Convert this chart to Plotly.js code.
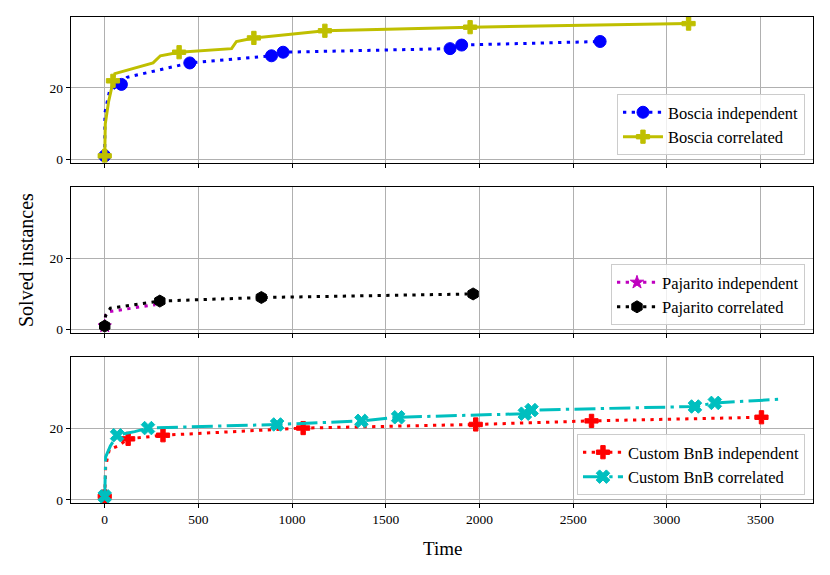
<!DOCTYPE html>
<html><head><meta charset="utf-8">
<script src="https://cdn.plot.ly/plotly-3.0.1.min.js"></script>
<style>html,body{margin:0;padding:0;background:#fff}</style>
</head><body><div id="chart" style="width:830px;height:575px"></div>
<script>
// ---- data (time in s, number of solved instances) ----
const boscia_ind_t = [0, 1, 25, 50, 89, 120, 454, 890, 952, 1843, 1905, 2644];
const boscia_ind_n = [1, 13, 19, 20, 21, 23, 27, 29, 30, 31, 32, 33];
const boscia_ind_marks = [0, 4, 6, 7, 8, 9, 10, 11];

const boscia_cor_t = [0, 3, 20, 44, 54, 258, 297, 397, 677, 703, 796, 1175, 1950, 3116];
const boscia_cor_n = [1, 10, 16, 22, 24, 27, 29, 30, 31, 33, 34, 36, 37, 38];
const boscia_cor_marks = [0, 3, 7, 10, 11, 12, 13];

const pajarito_ind_t = [0, 4, 15, 270];
const pajarito_ind_n = [1, 4, 5, 7];
const pajarito_ind_marks = [0];

const pajarito_cor_t = [0, 5, 30, 294, 836, 1966];
const pajarito_cor_n = [1, 4, 6, 8, 9, 10];
const pajarito_cor_marks = [0, 3, 4, 5];

const bnb_ind_t = [0, 5, 15, 25, 70, 125, 311, 1059, 1980, 2598, 3505];
const bnb_ind_n = [1, 9, 12, 14, 15, 17, 18, 20, 21, 22, 23];
const bnb_ind_marks = [0, 5, 6, 7, 8, 9, 10];

const bnb_cor_t = [0, 1, 5, 30, 66, 160, 231, 920, 1370, 1566, 2242, 2278, 3150, 3256, 3600];
const bnb_cor_n = [1, 10, 12, 15, 18, 19, 20, 21, 22, 23, 24, 25, 26, 27, 28];
const bnb_cor_marks = [0, 4, 6, 7, 8, 9, 10, 11, 12, 13];

const xTicks = [0, 500, 1000, 1500, 2000, 2500, 3000, 3500];
const yTicks = [0, 20];

// ---- styling ----
const FONT = 'Liberation Serif, Times New Roman, serif';
const DOT = '3.3px,5.4px';
const DASHDOT = '21px,5.3px,3.3px,5.3px';
const LW = 3;

function marked(t, n, idx) {
  const x = [], y = [];
  idx.forEach((i, k) => { if (k) { x.push(null); y.push(null); } x.push(t[i]); y.push(n[i]); });
  return {x, y};
}

function series(t, n, idx, name, color, dash, symbol, size, xa, ya, leg) {
  const m = marked(t, n, idx);
  return [
    {x: t, y: n, type: 'scatter', mode: 'lines', xaxis: xa, yaxis: ya, showlegend: false,
     line: {color: color, width: LW, dash: dash}, hoverinfo: 'skip'},
    {x: m.x, y: m.y, type: 'scatter', mode: 'lines+markers', name: name, xaxis: xa, yaxis: ya,
     legend: leg, connectgaps: false,
     line: {color: color, width: LW, dash: dash},
     marker: {color: color, symbol: symbol, size: size, line: {color: color, width: 1}}}
  ];
}

const data = [].concat(
  series(boscia_ind_t, boscia_ind_n, boscia_ind_marks, 'Boscia independent', '#0000ff', DOT, 'circle', 12, 'x', 'y', 'legend'),
  series(boscia_cor_t, boscia_cor_n, boscia_cor_marks, 'Boscia correlated', '#bfbf00', 'solid', 'cross', 11, 'x', 'y', 'legend'),
  series(pajarito_ind_t, pajarito_ind_n, pajarito_ind_marks, 'Pajarito independent', '#bf00bf', DOT, 'star', 10, 'x2', 'y2', 'legend2'),
  series(pajarito_cor_t, pajarito_cor_n, pajarito_cor_marks, 'Pajarito correlated', '#000000', DOT, 'hexagon', 12, 'x2', 'y2', 'legend2'),
  series(bnb_ind_t, bnb_ind_n, bnb_ind_marks, 'Custom BnB independent', '#ff0000', DOT, 'cross', 11, 'x3', 'y3', 'legend3'),
  series(bnb_cor_t, bnb_cor_n, bnb_cor_marks, 'Custom BnB correlated', '#00bfbf', DASHDOT, 'x', 12, 'x3', 'y3', 'legend3')
);

function xax(showLabels, anchor) {
  return {range: [-180, 3780], tickvals: xTicks, ticktext: xTicks.map(String), showticklabels: showLabels,
    ticks: 'outside', ticklen: 4, tickwidth: 1, tickcolor: '#000', showline: true, mirror: true,
    linecolor: '#000', linewidth: 1.2, showgrid: true, gridcolor: '#b0b0b0', gridwidth: 1,
    zeroline: false, anchor: anchor, tickfont: {family: FONT, size: 13.5, color: '#000'}};
}
function yax(domain, anchor) {
  return {range: [-0.85, 39.85], domain: domain, tickvals: yTicks, ticktext: yTicks.map(String),
    ticks: 'outside', ticklen: 4, tickwidth: 1, tickcolor: '#000', showline: true, mirror: true,
    linecolor: '#000', linewidth: 1.2, showgrid: true, gridcolor: '#b0b0b0', gridwidth: 1,
    zeroline: false, anchor: anchor, tickfont: {family: FONT, size: 13.5, color: '#000'}};
}
function leg(y) {
  return {x: 0.9892, xanchor: 'right', y: y, yanchor: 'bottom', bgcolor: 'rgba(255,255,255,0.8)',
    bordercolor: '#cccccc', borderwidth: 1, font: {family: FONT, size: 16.5, color: '#000'},
    tracegroupgap: 0, itemwidth: 40};
}

const layout = {
  width: 830, height: 575,
  margin: {l: 71, r: 17, t: 17, b: 72},
  paper_bgcolor: '#fff', plot_bgcolor: '#fff',
  font: {family: FONT, color: '#000'},
  xaxis: xax(false, 'y'),
  xaxis2: xax(false, 'y2'),
  xaxis3: xax(true, 'y3'),
  yaxis: yax([0.7006, 1.0], 'x'),
  yaxis2: yax([0.3504, 0.6496], 'x2'),
  yaxis3: yax([0.0, 0.301], 'x3'),
  legend: leg(0.716),
  legend2: leg(0.366),
  legend3: leg(0.0165),
  annotations: [
    {text: 'Solved instances', xref: 'paper', yref: 'paper', x: -0.0606, y: 0.5, xanchor: 'center', yanchor: 'middle',
     textangle: -90, showarrow: false, font: {family: FONT, size: 20, color: '#000'}},
    {text: 'Time', xref: 'paper', yref: 'paper', x: 0.5, y: -0.0926, xanchor: 'center', yanchor: 'middle',
     showarrow: false, font: {family: FONT, size: 19, color: '#000'}}
  ]
};

Plotly.newPlot('chart', data, layout, {staticPlot: true, displayModeBar: false});
</script></body></html>
